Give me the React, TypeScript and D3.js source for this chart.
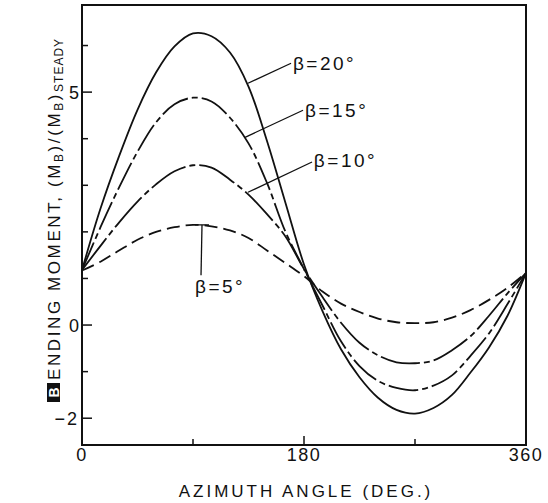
import React from "react";
import * as d3 from "d3";

// azimuth angle (deg) and bending moment ratio
const azimuth = [0, 15, 30, 45, 60, 75, 90, 105, 120, 135, 150, 165, 180, 195, 210, 225, 240, 255, 270, 285, 300, 315, 330, 345, 360];
const beta20 = [1.18, 2.5, 3.62, 4.62, 5.42, 5.98, 6.26, 6.2, 5.85, 5.12, 3.95, 2.62, 1.3, 0.3, -0.52, -1.12, -1.56, -1.82, -1.9, -1.78, -1.5, -1.02, -0.48, 0.2, 1.12];
const beta15 = [1.18, 2.1, 2.95, 3.72, 4.35, 4.74, 4.88, 4.8, 4.45, 3.9, 3.05, 2.0, 1.2, 0.42, -0.35, -0.88, -1.2, -1.35, -1.4, -1.3, -1.08, -0.66, -0.18, 0.45, 1.12];
const beta10 = [1.18, 1.7, 2.2, 2.65, 3.02, 3.3, 3.43, 3.38, 3.12, 2.8, 2.38, 1.9, 1.2, 0.6, 0.05, -0.38, -0.65, -0.8, -0.82, -0.76, -0.54, -0.24, 0.2, 0.68, 1.12];
const beta5 = [1.17, 1.36, 1.6, 1.83, 2.0, 2.1, 2.15, 2.12, 2.03, 1.87, 1.6, 1.33, 1.05, 0.72, 0.46, 0.28, 0.14, 0.06, 0.04, 0.06, 0.16, 0.32, 0.54, 0.8, 1.12];

const seriesNames = ["β=20°", "β=15°", "β=10°", "β=5°"];
const seriesValues = [beta20, beta15, beta10, beta5];
const seriesDash = ["none", "30,4,6,4", "40,4,6,4", "13,6"];

// leader lines and label anchors, in data units (azimuth, moment)
const leaderFrom = [[134.6, 5.19], [132.2, 4.03], [134.6, 2.85], [97.3, 2.15]];
const leaderTo = [[169.5, 5.62], [179.2, 4.61], [186.5, 3.5], [96.5, 1.07]];
const labelAt = [[171, 5.47], [180.8, 4.46], [188, 3.39], [91.6, 0.69]];

const xTicks = [0, 90, 180, 270, 360];
const xTickLabels = [0, 180, 360];
const yTicks = [-2, -1, 0, 1, 2, 3, 4, 5, 6];
const yTickLabels = [-2, 0, 5];

const W = 548;
const H = 503;
const FONT = "'Liberation Sans', Arial, Helvetica, sans-serif";

export default function App() {
  const x = d3.scaleLinear().domain([0, 360]).range([82, 526]);
  const y = d3.scaleLinear().domain([-2.575, 6.87]).range([445, 5]);

  const line = d3
    .line<number>()
    .x((_, i) => x(azimuth[i]))
    .y((d) => y(d))
    .curve(d3.curveCatmullRom.alpha(0.5));

  return (
    <svg width={W} height={H} style={{ position: "absolute", left: 0, top: 0, background: "#fff" }} fontFamily={FONT}>
      {/* curves */}
      {seriesValues.map((vals, i) => (
        <path key={i} d={line(vals) || ""} fill="none" stroke="#111" strokeWidth={1.8} strokeDasharray={seriesDash[i]} />
      ))}

      {/* frame */}
      <rect x={x(0)} y={y(6.87)} width={x(360) - x(0)} height={y(-2.575) - y(6.87)} fill="none" stroke="#111" strokeWidth={2} />

      {/* x ticks */}
      {xTicks.slice(1, -1).map((t) => (
        <line key={t} x1={x(t)} x2={x(t)} y1={y(-2.575)} y2={y(-2.575) - (t === 180 ? 9 : 6)} stroke="#111" strokeWidth={1.5} />
      ))}
      {xTickLabels.map((t) => (
        <text key={t} x={x(t)} y={461} textAnchor="middle" fontSize={18} letterSpacing={1.5} fill="#111">
          {t}
        </text>
      ))}
      <text x={306} y={497} textAnchor="middle" fontSize={17} letterSpacing={3} fill="#111">
        AZIMUTH ANGLE (DEG.)
      </text>

      {/* y ticks */}
      {yTicks.map((t) => (
        <line key={t} x1={x(0)} x2={x(0) + (yTickLabels.includes(t) ? 10 : 6)} y1={y(t)} y2={y(t)} stroke="#111" strokeWidth={1.5} />
      ))}
      {yTickLabels.map((t) => (
        <text key={t} x={79} y={y(t)} dy="0.36em" textAnchor="end" fontSize={18} letterSpacing={t < 0 ? 2 : 0} fill="#111">
          {t < 0 ? "−" + Math.abs(t) : t}
        </text>
      ))}

      {/* y axis title */}
      <g transform="translate(60,402) rotate(-90)">
        <rect x={0} y={-13} width={19} height={13} fill="#111" />
        <text x={9.5} y={-1.5} textAnchor="middle" fontSize={14} fontWeight="bold" fill="#fff">B</text>
        <text x={22} y={0} fontSize={17} letterSpacing={2.6} fill="#111">
          ENDING MOMENT, (M
          <tspan fontSize={12} dy={3}>B</tspan>
          <tspan dy={-3}>)/(M</tspan>
          <tspan fontSize={12} dy={3}>B</tspan>
          <tspan dy={-3}>)</tspan>
          <tspan fontSize={12} dy={3} letterSpacing={1}>STEADY</tspan>
        </text>
      </g>

      {/* leaders and labels */}
      {seriesNames.map((name, i) => (
        <g key={name}>
          <line
            x1={x(leaderFrom[i][0])}
            y1={y(leaderFrom[i][1])}
            x2={x(leaderTo[i][0])}
            y2={y(leaderTo[i][1])}
            stroke="#111"
            strokeWidth={1.3}
          />
          {i === 3 && (
            <line x1={x(leaderFrom[i][0]) - 7} x2={x(leaderFrom[i][0]) + 7} y1={y(leaderFrom[i][1])} y2={y(leaderFrom[i][1])} stroke="#111" strokeWidth={1.3} />
          )}
          <text x={x(labelAt[i][0])} y={y(labelAt[i][1])} fontSize={19} letterSpacing={2.5} fill="#111">
            {name}
          </text>
        </g>
      ))}
    </svg>
  );
}
